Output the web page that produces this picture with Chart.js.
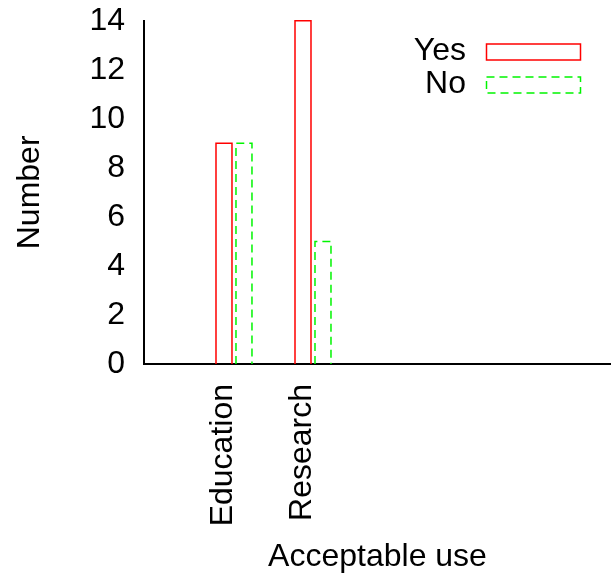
<!DOCTYPE html>
<html>
<head>
<meta charset="utf-8">
<script src="https://cdn.jsdelivr.net/npm/chart.js@4/dist/chart.umd.min.js"></script>
<style>
  html, body { margin: 0; padding: 0; background: #fff; }
  #wrap { width: 611px; height: 585px; position: relative; }
</style>
</head>
<body>
<div id="wrap"><canvas id="c" width="611" height="585"></canvas></div>
<script>
const categories = ['Education', 'Research'];
const seriesNames = ['Yes', 'No'];
const yesValues = [9, 14];
const noValues = [9, 5];
const yTickStep = 2;
const yMax = 14;

const FONT = '"Liberation Sans", Arial, sans-serif';
const RED = 'rgb(255,0,0)';
const GREEN = 'rgb(0,245,0)';

const toPoints = vals => vals.map((v, i) => ({ x: i, y: v }));

const outlineBars = {
  id: 'outlineBars',
  afterDatasetsDraw(chart) {
    const ctx = chart.ctx;
    chart.data.datasets.forEach((ds, di) => {
      const meta = chart.getDatasetMeta(di);
      ctx.save();
      ctx.strokeStyle = ds.lineColor;
      ctx.lineWidth = 1.5;
      ctx.setLineDash(ds.dash || []);
      meta.data.forEach(el => {
        const p = el.getProps(['x', 'y', 'base', 'width'], true);
        const l = p.x - p.width / 2, r = p.x + p.width / 2;
        ctx.beginPath();
        ctx.moveTo(l, p.base);
        ctx.lineTo(l, p.y);
        ctx.lineTo(r, p.y);
        ctx.lineTo(r, p.base);
        ctx.stroke();
      });
      ctx.restore();
    });
  }
};

const keyLegend = {
  id: 'keyLegend',
  afterDraw(chart) {
    const ctx = chart.ctx;
    chart.data.datasets.forEach((ds, di) => {
      const cy = 52 + di * 33;
      ctx.save();
      ctx.font = '32px ' + FONT;
      ctx.fillStyle = '#000';
      ctx.textAlign = 'right';
      ctx.textBaseline = 'middle';
      ctx.fillText(ds.label, 466, cy - 1);
      ctx.strokeStyle = ds.lineColor;
      ctx.lineWidth = 1.5;
      ctx.setLineDash(ds.dash || []);
      ctx.strokeRect(486.5, cy - 8, 94, 16);
      ctx.restore();
    });
  }
};

new Chart(document.getElementById('c'), {
  type: 'bar',
  data: {
    datasets: [
      { label: seriesNames[0], data: toPoints(yesValues), lineColor: RED, dash: [],
        backgroundColor: 'rgba(0,0,0,0)', borderWidth: 0 },
      { label: seriesNames[1], data: toPoints(noValues), lineColor: GREEN, dash: [8, 5],
        backgroundColor: 'rgba(0,0,0,0)', borderWidth: 0 }
    ]
  },
  options: {
    responsive: false,
    animation: false,
    events: [],
    categoryPercentage: 0.506,
    barPercentage: 0.8,
    layout: { padding: { top: 0, right: 0, left: 0, bottom: 0 } },
    plugins: { legend: { display: false }, tooltip: { enabled: false } },
    scales: {
      x: {
        type: 'linear',
        offset: false,
        min: -1.139,
        max: 4.772,
        grid: { display: false, drawTicks: false, offset: false },
        border: { display: true, color: '#000', width: 2 },
        afterBuildTicks: s => { s.ticks = categories.map((_, i) => ({ value: i })); },
        afterFit: s => { s.height = 221; s.paddingLeft = 0; s.paddingRight = 0; },
        ticks: {
          autoSkip: false,
          minRotation: 90,
          maxRotation: 90,
          padding: 20,
          labelOffset: -11,
          color: '#000',
          font: { family: FONT, size: 32 },
          callback: v => categories[v] ?? ''
        },
        title: {
          display: true,
          text: 'Acceptable use',
          color: '#000',
          font: { family: FONT, size: 32 },
          padding: { top: 0, bottom: 9 }
        }
      },
      y: {
        min: 0,
        max: yMax,
        grid: { display: false, drawTicks: false },
        border: { display: true, color: '#000', width: 2 },
        afterFit: s => { s.width = 144; s.paddingTop = 20.7; s.paddingBottom = 0; },
        ticks: {
          stepSize: yTickStep,
          padding: 19,
          color: '#000',
          font: { family: FONT, size: 32 }
        },
        title: {
          display: true,
          text: 'Number',
          color: '#000',
          font: { family: FONT, size: 32 },
          padding: { top: 11, bottom: 0 }
        }
      }
    }
  },
  plugins: [outlineBars, keyLegend]
});
</script>
</body>
</html>
